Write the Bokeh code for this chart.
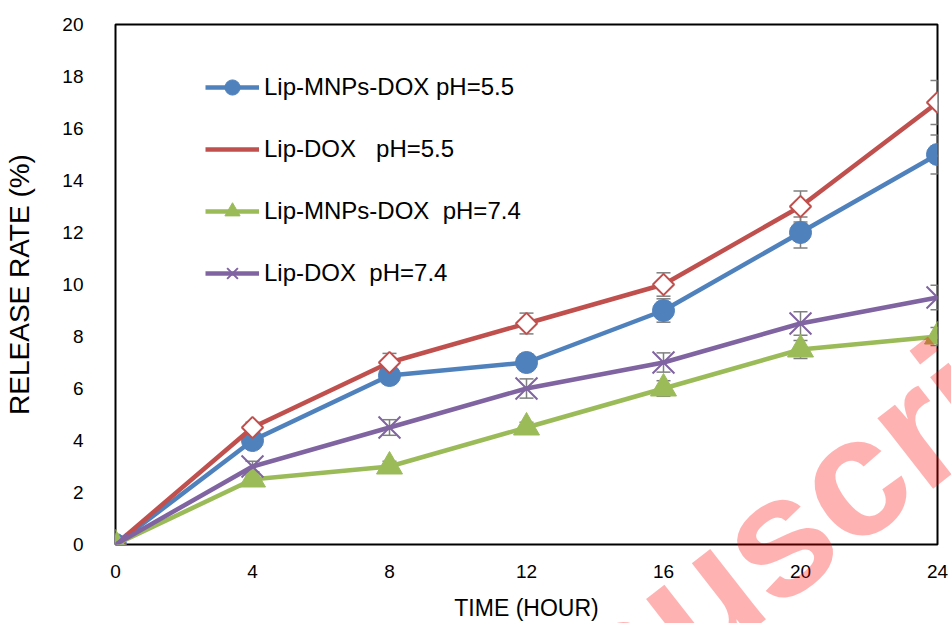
import numpy as np
from bokeh.plotting import figure
from bokeh.layouts import column
from bokeh.models import (ColumnDataSource, Whisker, Legend, LegendItem, Div,
                          FixedTicker, Range1d, TeeHead)
from bokeh.embed import file_html
from bokeh.resources import INLINE

# ---- data ----
time_h = [0, 4, 8, 12, 16, 20, 24]
lip_mnps_55 = [0, 4, 6.5, 7, 9, 12, 15]
lip_mnps_55_err = [0, 0.2, 0.3, 0.3, 0.45, 0.6, 0.75]
lip_dox_55 = [0, 4.5, 7, 8.5, 10, 13, 17]
lip_dox_55_err = [0, 0.2, 0.35, 0.4, 0.45, 0.6, 0.85]
lip_mnps_74 = [0, 2.5, 3, 4.5, 6, 7.5, 8]
lip_mnps_74_err = [0, 0.15, 0.2, 0.2, 0.3, 0.35, 0.35]
lip_dox_74 = [0, 3, 4.5, 6, 7, 8.5, 9.5]
lip_dox_74_err = [0, 0.2, 0.3, 0.37, 0.37, 0.45, 0.47]
x_ticks = [0, 4, 8, 12, 16, 20, 24]
y_ticks = [0, 2, 4, 6, 8, 10, 12, 14, 16, 18, 20]

labels = ["Lip-MNPs-DOX pH=5.5", "Lip-DOX   pH=5.5",
          "Lip-MNPs-DOX  pH=7.4", "Lip-DOX  pH=7.4"]
colors = ["#4F81BD", "#C0504D", "#9BBB59", "#8064A2"]
watermark = "Manuscript"

FONT = "Liberation Sans"

p = figure(width=951, height=623, output_backend="svg", toolbar_location=None,
           x_range=Range1d(0, 24), y_range=Range1d(0, 20),
           min_border_left=115, min_border_right=14, min_border_top=24,
           min_border_bottom=79)
p.background_fill_color = "white"
p.border_fill_color = "white"
p.outline_line_color = "black"
p.outline_line_width = 2
p.grid.visible = False

p.xaxis.ticker = FixedTicker(ticks=x_ticks)
p.yaxis.ticker = FixedTicker(ticks=y_ticks)
for ax in (p.xaxis[0], p.yaxis[0]):
    ax.axis_line_color = None
    ax.major_tick_line_color = None
    ax.minor_tick_line_color = None
    ax.major_label_text_font = FONT
    ax.major_label_text_font_size = "19px"
    ax.major_label_text_color = "black"
    ax.axis_label_text_font = FONT
    ax.axis_label_text_font_style = "normal"
    ax.axis_label_text_color = "black"
p.xaxis.axis_label = "TIME (HOUR)"
p.yaxis.axis_label = "RELEASE RATE (%)"
p.xaxis.axis_label_text_font_size = "23px"
p.yaxis.axis_label_text_font_size = "28px"
p.xaxis.major_label_standoff = 14
p.yaxis.major_label_standoff = 26
p.xaxis.axis_label_standoff = 14
p.yaxis.axis_label_standoff = 24

series = [lip_mnps_55, lip_dox_55, lip_mnps_74, lip_dox_74]
errs = [lip_mnps_55_err, lip_dox_55_err, lip_mnps_74_err, lip_dox_74_err]

items = []
for i, (ys, lab, col) in enumerate(zip(series, labels, colors)):
    src = ColumnDataSource(dict(x=time_h, y=ys))
    ln = p.line("x", "y", source=src, line_color=col, line_width=4.5)
    if i == 0:
        mk = p.scatter("x", "y", source=src, marker="circle", size=22,
                       fill_color=col, line_color=col)
        leg = mk
    elif i == 1:
        mk = p.scatter("x", "y", source=src, marker="square", angle=np.pi / 4,
                       size=15, fill_color="white", line_color=col, line_width=2)
        # legend-only renderer (no data) so the key shows a diamond
        leg = p.scatter(x=[], y=[], marker="diamond", size=15,
                        fill_color="white", line_color=col, line_width=2)
    elif i == 2:
        mk = p.scatter("x", "y", source=src, marker="triangle", size=26,
                       fill_color=col, line_color=col)
        leg = mk
    else:
        mk = p.scatter("x", "y", source=src, marker="x", size=31,
                       line_color=col, line_width=2)
        leg = mk
    items.append(LegendItem(label=lab, renderers=[ln, leg]))

for ys, es in zip(series, errs):
    xs = [x for x, e in zip(time_h, es) if e > 0]
    up = [y + e for y, e in zip(ys, es) if e > 0]
    lo = [y - e for y, e in zip(ys, es) if e > 0]
    esrc = ColumnDataSource(dict(base=xs, upper=up, lower=lo))
    w = Whisker(base="base", upper="upper", lower="lower", source=esrc,
                dimension="height", line_color="#7F7F7F", line_width=1.5,
                upper_head=TeeHead(size=14, line_color="#7F7F7F", line_width=1.5),
                lower_head=TeeHead(size=14, line_color="#7F7F7F", line_width=1.5))
    p.add_layout(w)

legend = Legend(items=items, location=(90, 252), padding=0, margin=0,
                spacing=24, glyph_width=54, glyph_height=38, label_height=38,
                label_standoff=5, border_line_color=None,
                background_fill_alpha=0,
                label_text_font=FONT, label_text_font_size="24px",
                label_text_color="black")
p.add_layout(legend)

# publisher watermark: an overlay that is not clipped to the plot frame
wm_html = (
    '<div style="position:absolute; left:746px; top:-63px; '
    'transform:translate(-50%,-50%) rotate(-38deg); white-space:nowrap; '
    "font-family:'Liberation Sans'; font-weight:bold; font-size:170px; "
    'line-height:1; color:rgba(255,0,0,0.3); pointer-events:none;">'
    + watermark + '</div>'
)
wm = Div(text=wm_html, width=951, height=0, margin=0,
         styles={"overflow": "visible", "position": "relative"})

layout = column(p, wm, spacing=0)

open("out.html", "w").write(file_html(layout, INLINE))
